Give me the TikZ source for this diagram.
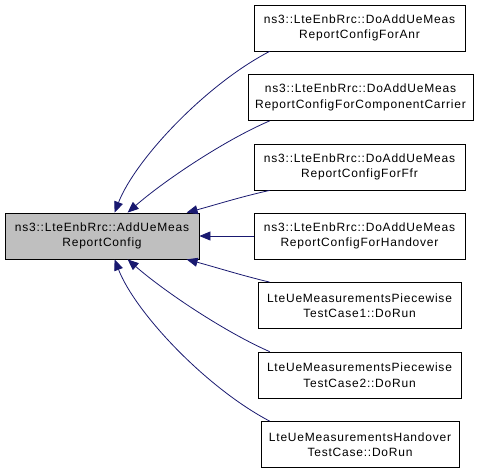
\documentclass[tikz,border=0pt]{standalone}
\usepackage{fontspec}
\setmainfont{Liberation Sans}[LetterSpace=6.5]
\usetikzlibrary{arrows.meta,calc}
\definecolor{edgeblue}{HTML}{191970}
\definecolor{mainfill}{HTML}{BFBFBF}
\tikzset{
  box/.style={draw=black, line width=0.8pt, fill=white, inner sep=0pt, align=center,
    minimum height=46pt, font=\fontsize{12}{15.5}\selectfont},
  mainbox/.style={box, fill=mainfill},
  edge/.style={draw=edgeblue, line width=0.8pt, -{Triangle[length=11pt,width=9pt]}},
}
\begin{document}
\begin{tikzpicture}[x=1pt,y=-1pt]
\useasboundingbox (0,0) rectangle (477,472);
\node[mainbox, minimum width=194pt] (main) at (102,236) {ns3::LteEnbRrc::AddUeMeas\\ReportConfig};
\node[box, minimum width=211pt] (b1) at (359.5,28) {ns3::LteEnbRrc::DoAddUeMeas\\ReportConfigForAnr};
\node[box, minimum width=225pt] (b2) at (360.5,97.5) {ns3::LteEnbRrc::DoAddUeMeas\\ReportConfigForComponentCarrier};
\node[box, minimum width=211pt] (b3) at (359.5,167) {ns3::LteEnbRrc::DoAddUeMeas\\ReportConfigForFfr};
\node[box, minimum width=211pt] (b4) at (359.5,236) {ns3::LteEnbRrc::DoAddUeMeas\\ReportConfigForHandover};
\node[box, minimum width=203pt] (b5) at (359.5,305.5) {LteUeMeasurementsPiecewise\\TestCase1::DoRun};
\node[box, minimum width=203pt] (b6) at (359.5,375) {LteUeMeasurementsPiecewise\\TestCase2::DoRun};
\node[box, minimum width=198pt] (b7) at (360,444.5) {LteUeMeasurementsHandover\\TestCase::DoRun};

\coordinate (s1) at ($(b1.south west)+(16,0)$);
\coordinate (s2) at ($(b2.south west)+(22,0)$);
\coordinate (s3) at ($(b3.south west)+(16,0)$);
\coordinate (s5) at ($(b5.north west)+(12,0)$);
\coordinate (s6) at ($(b6.north west)+(12,0)$);
\coordinate (s7) at ($(b7.north west)+(9,0)$);
\coordinate (e1) at ($(main.north west)+(110,0)$);
\coordinate (e2) at ($(main.north west)+(123,0)$);
\coordinate (e3) at ($(main.north west)+(182,0)$);
\coordinate (e5) at ($(main.south west)+(182,0)$);
\coordinate (e6) at ($(main.south west)+(123,0)$);
\coordinate (e7) at ($(main.south west)+(110,0)$);

\draw[edge] (s1) .. controls (205,85) and (135,160) .. (e1);
\draw[edge] (s2) .. controls (225,140) and (165,180) .. (e2);
\draw[edge] (s3) .. controls (240,197) and (215,205) .. (e3);
\draw[edge] (b4.west) -- (main.east);
\draw[edge] (s5) .. controls (240,275) and (215,267) .. (e5);
\draw[edge] (s6) .. controls (225,332) and (165,292) .. (e6);
\draw[edge] (s7) .. controls (205,387) and (135,312) .. (e7);
\end{tikzpicture}
\end{document}
